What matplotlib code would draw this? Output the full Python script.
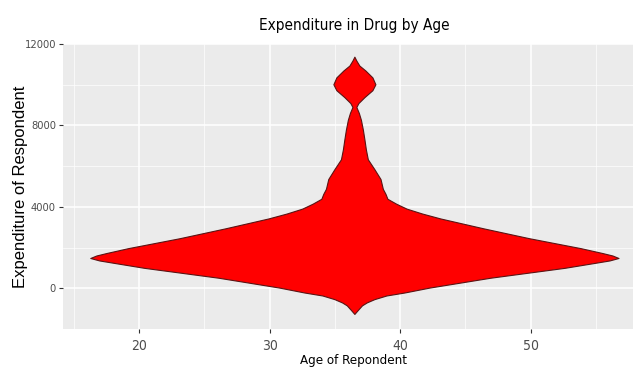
import numpy as np
import matplotlib
matplotlib.use('Agg')
import matplotlib.pyplot as plt

# violin outline: expenditure level -> half width (years)
expenditure = [-1260, -1033, -839, -693, -533, -354, -208, 34, 519, 1004, 1246,
               1367, 1488, 1610, 1731, 1973, 2458, 2943, 3428, 3670, 3912, 4155,
               4397, 4640, 4882, 5367, 5852, 6336, 6821, 7306, 7791, 8276, 8615,
               8906, 9100, 9391, 9730, 10021, 10360, 10700, 10942, 11185, 11378]
half_width = [0, 0.31, 0.58, 0.95, 1.53, 2.45, 3.83, 5.75, 10.42, 16.1, 18.4,
              19.54, 20.23, 19.77, 19.0, 17.32, 13.4, 9.9, 6.6, 5.2, 4.0, 3.2,
              2.53, 2.38, 2.18, 2.0, 1.53, 1.03, 0.88, 0.77, 0.65, 0.50, 0.34,
              0.15, 0.31, 0.77, 1.38, 1.61, 1.38, 0.84, 0.38, 0.15, 0]
age_center = 36.5

x_ticks = [20, 30, 40, 50]
y_ticks = [0, 4000, 8000, 12000]

cond = dict(family='DejaVu Sans', stretch='condensed')

fig = plt.figure(figsize=(6.33, 3.76), dpi=100)
ax = fig.add_axes([63/633, 47/376, 582/633, 285/376])
ax.set_facecolor('#EBEBEB')

y = np.array(expenditure)
hw = np.array(half_width)
ax.fill_betweenx(y, age_center - hw, age_center + hw, facecolor='#FF0000',
                 edgecolor='#5a1414', linewidth=0.8, zorder=3)

ax.set_xlim(14.18, 58.76)
ax.set_ylim(-1850, 11980)
ax.set_xticks(x_ticks)
ax.set_yticks(y_ticks)
ax.set_xticks([15, 25, 35, 45, 55], minor=True)
ax.set_yticks([-2000, 2000, 6000, 10000], minor=True)
ax.grid(which='major', color='white', linewidth=1.1, zorder=0)
ax.grid(which='minor', color='white', linewidth=0.5, zorder=0)
ax.set_axisbelow(True)
for s in ax.spines.values():
    s.set_visible(False)
ax.tick_params(which='major', length=3, width=0.8, color='#333333',
               labelcolor='#4D4D4D', pad=2)
ax.tick_params(which='minor', length=0)
for lab in ax.get_xticklabels():
    lab.set(fontsize=10, **cond)
for lab in ax.get_yticklabels():
    lab.set(fontsize=8, **cond)
ax.tick_params(axis='x', pad=4)

ax.set_title('Expenditure in Drug by Age', fontsize=11, pad=10,
             x=(354 - 63) / 582, **cond)
ax.set_xlabel('Age of Repondent', fontsize=9.5, labelpad=1, **cond)
ax.set_ylabel('Expenditure of Respondent', family='Liberation Sans',
              fontsize=12)
ax.yaxis.set_label_coords(-0.06, 0.5)

fig.savefig('out.png', dpi=100)
